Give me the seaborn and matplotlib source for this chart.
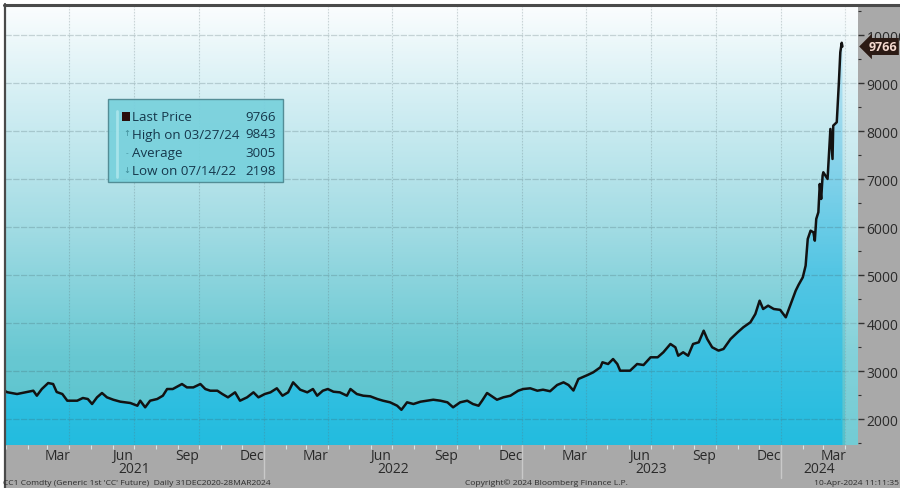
import numpy as np
import pandas as pd
import matplotlib
matplotlib.use("Agg")
import matplotlib.pyplot as plt
import matplotlib.dates as mdates
import matplotlib.transforms as mtransforms
from matplotlib.colors import LinearSegmentedColormap
from matplotlib.lines import Line2D
from matplotlib.patches import Rectangle
from matplotlib.ticker import FixedLocator, MultipleLocator
import seaborn as sns

# ---- CC1 Comdty (generic 1st cocoa future), daily closes sampled ----
dates_2021 = ["2020-12-31", "2021-01-03", "2021-01-17", "2021-01-31", "2021-02-09", "2021-02-14",
              "2021-02-21", "2021-03-02", "2021-03-09", "2021-03-14", "2021-03-22", "2021-03-29",
              "2021-04-12", "2021-04-20", "2021-04-27", "2021-05-03", "2021-05-10", "2021-05-17",
              "2021-05-24", "2021-06-02", "2021-06-12", "2021-06-26", "2021-07-06", "2021-07-10",
              "2021-07-17", "2021-07-24", "2021-08-03", "2021-08-11", "2021-08-17", "2021-08-25",
              "2021-09-07", "2021-09-14", "2021-09-23", "2021-10-03", "2021-10-10", "2021-10-17",
              "2021-10-27", "2021-11-03", "2021-11-11", "2021-11-21", "2021-11-28", "2021-12-08",
              "2021-12-17", "2021-12-24"]
prices_2021 = [2590, 2565, 2527, 2569, 2596, 2492,
               2631, 2756, 2735, 2569, 2527, 2388,
               2388, 2444, 2423, 2319, 2458, 2548,
               2458, 2408, 2367, 2340, 2283, 2388,
               2250, 2388, 2423, 2492, 2631, 2631,
               2735, 2665, 2665, 2735, 2631, 2596,
               2596, 2527, 2458, 2562, 2388, 2458,
               2562, 2458]

dates_2022 = ["2022-01-02", "2022-01-10", "2022-01-19", "2022-01-27", "2022-02-04", "2022-02-11",
              "2022-02-18", "2022-02-21", "2022-03-03", "2022-03-11", "2022-03-17", "2022-03-25",
              "2022-04-01", "2022-04-09", "2022-04-18", "2022-04-28", "2022-05-03", "2022-05-12",
              "2022-05-21", "2022-05-31", "2022-06-10", "2022-06-18", "2022-06-28", "2022-07-08",
              "2022-07-14", "2022-07-22", "2022-07-31", "2022-08-10", "2022-08-19", "2022-08-28",
              "2022-09-07", "2022-09-17", "2022-09-25", "2022-10-05", "2022-10-15", "2022-10-23",
              "2022-10-31", "2022-11-05", "2022-11-12", "2022-11-19", "2022-11-26", "2022-12-05",
              "2022-12-15", "2022-12-26"]
prices_2022 = [2527, 2562, 2646, 2492, 2562, 2770,
               2665, 2617, 2562, 2631, 2492, 2596,
               2631, 2575, 2562, 2492, 2631, 2527,
               2492, 2479, 2423, 2388, 2354, 2283,
               2198, 2354, 2319, 2367, 2388, 2408,
               2388, 2354, 2250, 2354, 2388, 2319,
               2283, 2388, 2548, 2479, 2408, 2458,
               2492, 2596]

dates_2023 = ["2023-01-02", "2023-01-12", "2023-01-22", "2023-01-30", "2023-02-09", "2023-02-19",
              "2023-02-28", "2023-03-07", "2023-03-14", "2023-03-21", "2023-04-03", "2023-04-11",
              "2023-04-21", "2023-04-24", "2023-05-02", "2023-05-09", "2023-05-15", "2023-05-19",
              "2023-06-02", "2023-06-12", "2023-06-21", "2023-07-01", "2023-07-11", "2023-07-19",
              "2023-07-29", "2023-08-05", "2023-08-09", "2023-08-16", "2023-08-23", "2023-08-30",
              "2023-09-07", "2023-09-14", "2023-09-19", "2023-09-26", "2023-10-05", "2023-10-12",
              "2023-10-22", "2023-11-01", "2023-11-09", "2023-11-19", "2023-11-26", "2023-12-02",
              "2023-12-07", "2023-12-14", "2023-12-22", "2023-12-31"]
prices_2023 = [2631, 2646, 2596, 2617, 2585, 2715,
               2770, 2715, 2600, 2840, 2923, 2979,
               3083, 3188, 3152, 3256, 3152, 3013,
               3013, 3152, 3131, 3292, 3292, 3396,
               3569, 3500, 3325, 3396, 3325, 3569,
               3604, 3846, 3673, 3500, 3431, 3465,
               3673, 3813, 3917, 4021, 4194, 4471,
               4298, 4367, 4298, 4280]

dates_2024 = ["2024-01-08", "2024-01-15", "2024-01-22", "2024-01-26", "2024-02-01", "2024-02-05",
              "2024-02-08", "2024-02-12", "2024-02-16", "2024-02-18", "2024-02-20", "2024-02-23",
              "2024-02-25", "2024-02-27", "2024-02-29", "2024-03-01", "2024-03-07", "2024-03-11",
              "2024-03-14", "2024-03-15", "2024-03-20", "2024-03-23", "2024-03-25", "2024-03-27",
              "2024-03-28"]
prices_2024 = [4125, 4400, 4680, 4800, 4958, 5200,
               5756, 5929, 5896, 5721, 6173, 6313,
               6902, 6590, 7075, 7146, 7006, 8048,
               7423, 8117, 8188, 9021, 9646, 9843,
               9766]

# ---- summary box values ----
last_price = 9766
high_price, high_date = 9843, "03/27/24"
avg_price = 3005
low_price, low_date = 2198, "07/14/22"

# ---- axis labels ----
y_ticks = [2000, 3000, 4000, 5000, 6000, 7000, 8000, 9000, 10000]
month_label_dates = ["2021-03-15", "2021-06-15", "2021-09-15", "2021-12-15",
                     "2022-03-15", "2022-06-15", "2022-09-15", "2022-12-15",
                     "2023-03-15", "2023-06-15", "2023-09-15", "2023-12-15",
                     "2024-03-15"]
month_labels = ["Mar", "Jun", "Sep", "Dec", "Mar", "Jun", "Sep", "Dec",
                "Mar", "Jun", "Sep", "Dec", "Mar"]
year_labels = ["2021", "2022", "2023", "2024"]
year_label_dates = ["2021-07-02", "2022-07-02", "2023-07-02", "2024-02-24"]
year_starts = ["2022-01-01", "2023-01-01", "2024-01-01"]

x_start, x_end = "2020-12-31", "2024-04-19"
y_min, y_max = 1465, 10630

footer_left = "CC1 Comdty (Generic 1st 'CC' Future)  Daily 31DEC2020-28MAR2024"
footer_mid = "Copyright\u00a9 2024 Bloomberg Finance L.P."
footer_right = "10-Apr-2024 11:11:35"

# ---------------------------------------------------------------
df = pd.DataFrame({
    "date": pd.to_datetime(dates_2021 + dates_2022 + dates_2023 + dates_2024),
    "price": prices_2021 + prices_2022 + prices_2023 + prices_2024,
})

sns.set_style("white")
plt.rcParams["font.family"] = ["Open Sans", "DejaVu Sans"]

GRAY = "#a9a9a9"
fig = plt.figure(figsize=(9.0, 4.89), dpi=100, facecolor=GRAY)
W, H = 900, 489
L, R, T, B = 5, 858, 6, 446
ax = fig.add_axes([L / W, 1 - B / H, (R - L) / W, (B - T) / H])

x0 = mdates.date2num(pd.Timestamp(x_start))
x1 = mdates.date2num(pd.Timestamp(x_end))
xnum = mdates.date2num(df["date"])

# background gradient (white at top to teal at the bottom)
bg_cmap = LinearSegmentedColormap.from_list(
    "bg", [(0.0, "#fbfdfe"), (0.22, "#d2eef3"), (0.5, "#a3dce4"),
           (0.8, "#68c8d2"), (1.0, "#55c2cc")])
grad = bg_cmap(np.linspace(0, 1, 300))[:, None, :]
ax.imshow(grad, extent=[x0, x1, y_min, y_max], aspect="auto",
          origin="upper", zorder=0, interpolation="bilinear")

# area under the price line: brighter blue gradient
fill_cmap = LinearSegmentedColormap.from_list(
    "fill", [(0.0, "#cdebf6"), (0.3, "#93d6ec"), (0.6, "#55c6e4"),
             (1.0, "#22bcdf")])
grad2 = fill_cmap(np.linspace(0, 1, 300))[:, None, :]
poly = ax.fill_between(xnum, df["price"], y_min, facecolor="none",
                       edgecolor="none")
im2 = ax.imshow(grad2, extent=[x0, x1, y_min, y_max], aspect="auto",
                origin="upper", zorder=1, interpolation="bilinear")
im2.set_clip_path(poly.get_paths()[0], transform=ax.transData)

# lighter band past the last quarter boundary
ax.axvspan(mdates.date2num(pd.Timestamp("2024-04-01")), x1,
           color="white", alpha=0.18, lw=0, zorder=2)

# grid
for yv in y_ticks:
    ax.axhline(yv, color="#3f5c62", alpha=0.24, lw=0.9,
               ls=(0, (5, 1.2)), zorder=1.5)
for q in pd.date_range("2021-04-01", "2024-04-01", freq="QS"):
    ax.axvline(mdates.date2num(q), color="#5d7479", alpha=0.28, lw=0.8,
               ls=(0, (1.5, 1.2)), zorder=1.5)

# price line
sns.lineplot(data=df, x="date", y="price", ax=ax, color="#121212",
             linewidth=1.8, zorder=4)

ax.set_xlim(x0, x1)
ax.set_ylim(y_min, y_max)
ax.set_xlabel("")
ax.set_ylabel("")

# y axis on the right
ax.yaxis.tick_right()
ax.yaxis.set_major_locator(FixedLocator(y_ticks))
ax.yaxis.set_minor_locator(MultipleLocator(500))
ax.set_yticklabels([str(v) for v in y_ticks])
ax.tick_params(axis="y", which="major", right=True, left=False, length=4,
               width=1.0, color="#333333", pad=2, labelsize=10,
               labelcolor="#2a2a2a")
ax.tick_params(axis="y", which="minor", right=True, left=False, length=2,
               width=0.8, color="#333333")

# x axis: month labels at mid-month, small ticks at month starts
ax.xaxis.set_major_locator(FixedLocator(mdates.date2num(pd.to_datetime(month_label_dates))))
ax.set_xticklabels(month_labels)
ax.xaxis.set_minor_locator(mdates.MonthLocator())
ax.tick_params(axis="x", which="major", length=0, pad=2.5, labelsize=10,
               labelcolor="#2a2a2a", bottom=True)
ax.tick_params(axis="x", which="minor", length=3, width=0.8,
               color="#d8e4e6", bottom=True)

xt = mtransforms.blended_transform_factory(ax.transData, ax.transAxes)
for lab, d in zip(year_labels, year_label_dates):
    ax.text(mdates.date2num(pd.Timestamp(d)), -0.0545, lab, transform=xt,
            ha="center", va="center", fontsize=10, color="#2a2a2a")
for d in year_starts:
    ax.add_line(Line2D([mdates.date2num(pd.Timestamp(d))] * 2, [0, -0.075],
                       transform=xt, color="#c9c9c9", lw=1.0, clip_on=False))

for side in ["top", "right", "bottom", "left"]:
    ax.spines[side].set_visible(False)

# outer frame: white strip with a dark rule on top and left
fig.patches.append(Rectangle((0, 1 - 5 / H), 1, 5 / H, transform=fig.transFigure,
                             facecolor="white", edgecolor="none", zorder=0))
fig.patches.append(Rectangle((0, 0), 4 / W, 1, transform=fig.transFigure,
                             facecolor="white", edgecolor="none", zorder=0))
fig.lines.append(Line2D([4 / W, 1], [1 - 5.5 / H] * 2, transform=fig.transFigure,
                        color="#4a4a4a", lw=2.2))
fig.lines.append(Line2D([4.5 / W] * 2, [0, 1 - 5 / H], transform=fig.transFigure,
                        color="#4a4a4a", lw=1.6))

# last price tag (sits over the lower half of the 10000 label)
yt = mtransforms.blended_transform_factory(ax.transAxes, ax.transData)
ax.text(1.012, last_price, f"{last_price}", transform=yt, ha="left", va="center",
        fontsize=9, fontweight="bold", color="#f4d9cf", zorder=10, clip_on=False,
        bbox=dict(boxstyle="larrow,pad=0.16", fc="#2b1a14", ec="none"))

# summary box
def fx(px):
    return (px - L) / (R - L)

def fy(py):
    return 1 - (py - T) / (B - T)

ax.add_patch(Rectangle((fx(108), fy(183)), fx(283) - fx(108), fy(100) - fy(183),
                       transform=ax.transAxes, facecolor="#78d1dc", alpha=0.93,
                       edgecolor="#4d8790", lw=1.0, zorder=6))
ax.add_line(Line2D([fx(116.5)] * 2, [fy(112), fy(178)], transform=ax.transAxes,
                   color="#a6e3ea", lw=2.0, zorder=7))
rows = [("Last Price", last_price), (f"High on {high_date}", high_price),
        ("Average", avg_price), (f"Low on {low_date}", low_price)]
row_y = [117.7, 135.0, 153.3, 171.7]
marks = [None, "\u2191", "-", "\u2193"]
TXT = "#16384c"
for (lab, val), ry, mk in zip(rows, row_y, marks):
    ax.text(fx(132), fy(ry), lab, transform=ax.transAxes, ha="left", va="center",
            fontsize=9.6, color=TXT, zorder=8)
    ax.text(fx(276), fy(ry), str(val), transform=ax.transAxes, ha="right",
            va="center", fontsize=9.6, color=TXT, zorder=8)
    if mk is not None:
        ax.text(fx(127), fy(ry), mk, transform=ax.transAxes, ha="center",
                va="center", fontsize=6, color="#3f8c98", zorder=8)
ax.add_patch(Rectangle((fx(122), fy(122)), fx(130) - fx(122), fy(113) - fy(122),
                       transform=ax.transAxes, facecolor="#2a0d0a",
                       edgecolor="none", zorder=8))

# footer
fig.text(0.003, 1 - 483.5 / H, footer_left, ha="left", va="center",
         fontsize=6.1, color="#2e2e2e")
fig.text(465 / W, 1 - 483.5 / H, footer_mid, ha="left", va="center",
         fontsize=6.1, color="#2e2e2e")
fig.text(0.999, 1 - 483.5 / H, footer_right, ha="right", va="center",
         fontsize=6.1, color="#2e2e2e")

fig.savefig("out.png", dpi=100, facecolor=GRAY)
